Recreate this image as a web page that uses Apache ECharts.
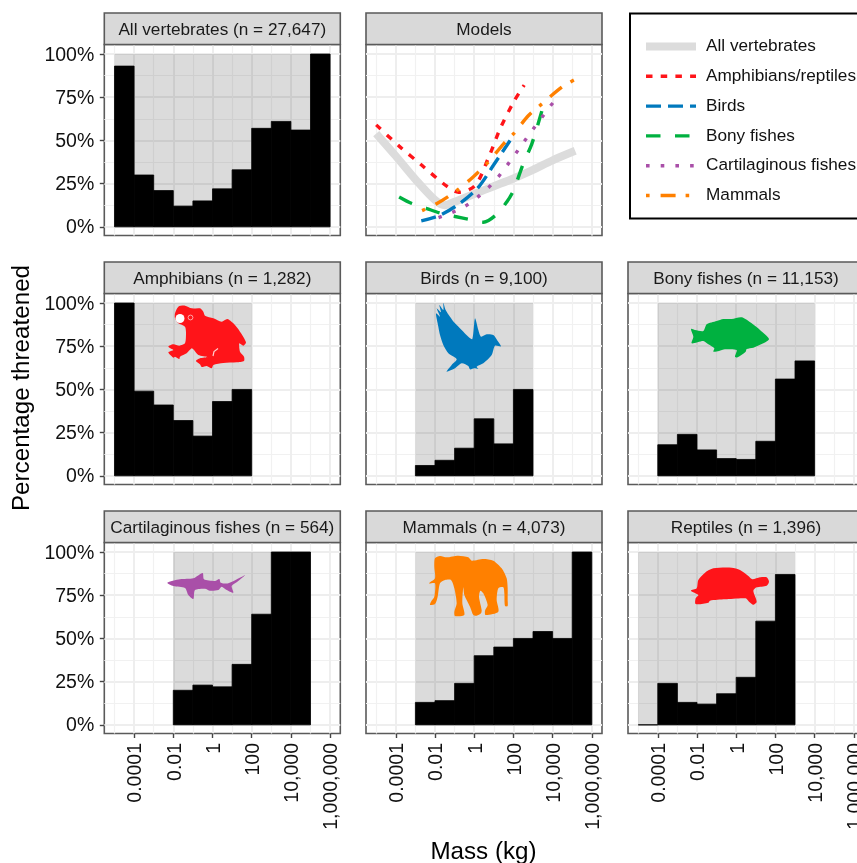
<!DOCTYPE html>
<html>
<head>
<meta charset="utf-8">
<style>
	html, body { margin: 0; padding: 0; background: #fff; overflow: hidden; }
	#chart { width: 857px; height: 863px; }
</style>
<script src="https://cdn.jsdelivr.net/npm/echarts@6/dist/echarts.min.js"></script>
</head>
<body>
<div id="chart"></div>
<script>
// percentage threatened per 1-decade mass bin, and log10 of the first bin's lower edge
const allVertebrates = [93, 30, 21, 12, 15, 22, 33, 57, 61, 56, 100];
const amphibians = [100, 49, 41, 32, 23, 43, 50];
const birds = [6, 9, 16, 33, 18.5, 50];
const bonyFishes = [18, 24, 15, 10, 9.5, 20, 56, 66.5];
const cartilaginousFishes = [20, 23, 22, 35, 64, 100, 100];
const mammals = [13, 14, 24, 40, 45, 50, 54, 50, 100];
const reptiles = [0, 24, 13, 12, 18, 27.5, 60, 87];
const binStarts = { all: -5, amphibians: -5, birds: -3, bony: -4, cartilaginous: -2, mammals: -3, reptiles: -5 };

// model curves, [log10 mass, percentage]
const modelAll = [[-5, 54], [-4, 41], [-3, 27.5], [-2, 15.5], [-1.5, 12.5], [-1, 14.5], [0, 19], [1, 23.5], [2, 28], [3, 33], [4, 38.5], [5.15, 44]];
const modelAmphRept = [[-5, 59], [-3.83, 46.7], [-2.67, 35.6], [-1.4, 23.5], [-0.8, 20], [0.05, 24], [0.73, 40], [1.32, 56.7], [2, 72], [2.55, 82]];
const modelBirds = [[-2.7, 3.5], [-1.74, 6.7], [-0.63, 14.4], [0.22, 23], [0.98, 35.6], [1.83, 50]];
const modelBony = [[-3.83, 17.3], [-3.18, 13.5], [-2.42, 10.6], [-1.74, 8], [-0.97, 6], [-0.3, 4.4], [0.47, 2.7], [1.15, 7.3], [1.66, 14.4], [2, 21], [2.5, 36.5], [2.94, 48], [3.45, 67]];
const modelCartilaginous = [[-1.82, 5.4], [-1.13, 8.3], [-0.46, 12], [0.15, 17], [0.71, 22.5], [1.22, 28.8], [1.68, 35.6], [2.12, 42.5], [2.55, 49.4], [3, 56.5], [3.43, 63], [3.89, 70], [4.38, 76.3]];
const modelMammals = [[-2.66, 9.4], [-1.9, 13.5], [-0.89, 21], [-0.04, 29], [0.68, 37], [1.5, 48], [2.05, 54.4], [2.77, 64.4], [3.47, 71.3], [4.47, 80.8], [5.1, 85]];

const xTicks = [-4, -2, 0, 2, 4, 6];
const xTickLabels = ["0.0001", "0.01", "1", "100", "10,000", "1,000,000"];
const xMinor = [-5, -3, -1, 1, 3, 5];
const yTicks = [0, 25, 50, 75, 100];
const yMinor = [12.5, 37.5, 62.5, 87.5];

const colX = [104.3, 366, 628];
const rowY = [44.5, 293.5, 542.5];
const panelW = 236;
const panelH = 191;
const stripH = 31.5;
const FONT = '"Liberation Sans", Arial, sans-serif';

const RED = "#ff1419", BLUE = "#0079bd", GREEN = "#00b140", PURPLE = "#a94fa8", ORANGE = "#ff8000";

const panels = [
	{ title: "All vertebrates (n = 27,647)", col: 0, row: 0, values: allVertebrates, start: binStarts.all },
	{ title: "Models", col: 1, row: 0 },
	{ title: "Amphibians (n = 1,282)", col: 0, row: 1, values: amphibians, start: binStarts.amphibians },
	{ title: "Birds (n = 9,100)", col: 1, row: 1, values: birds, start: binStarts.birds },
	{ title: "Bony fishes (n = 11,153)", col: 2, row: 1, values: bonyFishes, start: binStarts.bony },
	{ title: "Cartilaginous fishes (n = 564)", col: 0, row: 2, values: cartilaginousFishes, start: binStarts.cartilaginous },
	{ title: "Mammals (n = 4,073)", col: 1, row: 2, values: mammals, start: binStarts.mammals },
	{ title: "Reptiles (n = 1,396)", col: 2, row: 2, values: reptiles, start: binStarts.reptiles },
];

const modelLines = [
	{ name: "All vertebrates", data: modelAll, color: "#dcdcdc", width: 8, dash: "solid" },
	{ name: "Amphibians/reptiles", data: modelAmphRept, color: RED, width: 3.4, dash: [6.5, 8.2] },
	{ name: "Birds", data: modelBirds, color: BLUE, width: 3.4, dash: [15, 7] },
	{ name: "Bony fishes", data: modelBony, color: GREEN, width: 3.4, dash: [14.5, 14.5] },
	{ name: "Cartilaginous fishes", data: modelCartilaginous, color: PURPLE, width: 3.4, dash: [3.6, 11.1] },
	{ name: "Mammals", data: modelMammals, color: ORANGE, width: 3.4, dash: [3.6, 11, 15, 10] },
];

// silhouettes: page origin, then outline points at 3x
const silhouettes = [
	{ color: RED, ox: 90, oy: 255, points: [[265, 155], [285, 152], [305, 160], [330, 160], [340, 170], [345, 182], [370, 190], [395, 200], [412, 192], [430, 205], [450, 230], [468, 262], [460, 272], [448, 265], [450, 290], [462, 305], [462, 318], [440, 322], [400, 324], [370, 330], [365, 340], [350, 333], [335, 336], [330, 328], [318, 318], [330, 310], [352, 306], [325, 300], [312, 285], [305, 280], [290, 295], [270, 305], [268, 312], [255, 305], [250, 308], [235, 292], [250, 285], [235, 275], [250, 268], [268, 272], [285, 265], [288, 235], [285, 215], [265, 205], [255, 190], [255, 175]] },
	{ color: BLUE, ox: 355, oy: 255, points: [[265, 143], [272, 165], [285, 185], [300, 205], [320, 225], [340, 245], [352, 252], [360, 190], [370, 225], [378, 245], [395, 238], [415, 240], [428, 258], [438, 274], [420, 272], [410, 300], [385, 325], [365, 335], [370, 342], [358, 340], [345, 343], [340, 333], [320, 325], [300, 340], [275, 350], [290, 330], [305, 313], [280, 295], [265, 270], [255, 240], [250, 215], [243, 175], [255, 185], [245, 160], [258, 172], [253, 150], [265, 165]] },
	{ color: GREEN, ox: 355, oy: 255, points: [[1008, 222], [1020, 225], [1045, 228], [1055, 208], [1085, 198], [1105, 192], [1130, 192], [1160, 187], [1190, 205], [1215, 225], [1242, 252], [1225, 265], [1195, 278], [1175, 282], [1172, 290], [1148, 307], [1140, 305], [1145, 285], [1110, 283], [1092, 288], [1075, 290], [1078, 280], [1060, 268], [1045, 258], [1010, 265], [1015, 245]] },
	{ color: PURPLE, ox: 90, oy: 500, points: [[232, 248], [270, 238], [310, 235], [338, 219], [342, 238], [375, 243], [388, 237], [392, 248], [415, 250], [465, 226], [440, 247], [425, 258], [430, 278], [410, 270], [395, 260], [385, 270], [360, 272], [345, 266], [315, 270], [310, 297], [295, 285], [285, 264], [250, 258]] },
	{ color: ORANGE, ox: 355, oy: 500, points: [[240, 175], [255, 168], [275, 172], [310, 167], [340, 172], [350, 182], [385, 177], [415, 182], [440, 205], [455, 235], [458, 265], [458, 300], [458, 318], [450, 318], [448, 280], [445, 262], [430, 265], [425, 300], [430, 335], [392, 345], [390, 332], [398, 315], [385, 280], [376, 272], [372, 290], [380, 330], [378, 340], [365, 347], [355, 345], [345, 320], [328, 285], [325, 262], [322, 310], [328, 345], [300, 348], [298, 335], [305, 310], [298, 265], [288, 240], [270, 240], [255, 250], [248, 290], [240, 312], [225, 315], [228, 305], [238, 290], [240, 250], [222, 250], [240, 235], [238, 200]] },
	{ color: RED, ox: 355, oy: 500, points: [[1030, 240], [1050, 218], [1075, 205], [1130, 203], [1155, 210], [1180, 228], [1192, 238], [1215, 232], [1235, 232], [1242, 245], [1235, 257], [1205, 262], [1195, 272], [1205, 305], [1195, 314], [1182, 305], [1172, 295], [1110, 298], [1065, 302], [1060, 308], [1022, 312], [1022, 295], [1030, 285], [1008, 272], [1025, 265]] },
];

const grids = [], xAxes = [], yAxes = [], series = [], graphics = [];

// one bin = [lower edge, percentage]; the rectangle goes through the axes' scales
function renderBin(params, api) {
	const x0 = api.value(0);
	const top = api.coord([x0, api.value(1)]);
	const base = api.coord([x0 + 1, 0]);
	return {
		type: "rect",
		shape: { x: top[0], y: top[1], width: base[0] - top[0], height: base[1] - top[1] },
		style: api.style(),
	};
}

panels.forEach(function (p, i) {
	const left = colX[p.col], top = rowY[p.row];
	grids.push({
		left: left, top: top, width: panelW, height: panelH,
		show: true, backgroundColor: "#fff", borderColor: "#5a5a5a", borderWidth: 1.6,
		outerBoundsMode: "none",
	});
	const hasX = p.row === 2, hasY = p.col === 0;
	xAxes.push({
		type: "value", gridIndex: i, position: "bottom", min: -5.52, max: 6.52,
		axisLine: { show: false, onZero: false },
		axisTick: { show: hasX, customValues: xTicks, length: 4.5, lineStyle: { color: "#444", width: 1.4 } },
		axisLabel: {
			show: hasX, customValues: xTicks, rotate: 90, margin: 9.5, color: "#111", fontSize: 19.5, fontFamily: FONT,
			verticalAlign: "top", lineHeight: 4,
			formatter: function (v) { return xTickLabels[xTicks.indexOf(v)]; },
		},
		splitLine: { show: true, lineStyle: { color: "#eeeeee", width: 2 } },
	});
	xAxes.push({
		type: "value", gridIndex: i, position: "top", min: -5.52, max: 6.52,
		axisLine: { show: false, onZero: false },
		axisTick: { show: false, customValues: xMinor },
		axisLabel: { show: false, customValues: xMinor },
		splitLine: { show: true, lineStyle: { color: "#f1f1f1", width: 1.2 } },
	});
	yAxes.push({
		type: "value", gridIndex: i, position: "left", min: -5, max: 105.5,
		axisLine: { show: false, onZero: false },
		axisTick: { show: hasY, customValues: yTicks, length: 4.5, lineStyle: { color: "#444", width: 1.4 } },
		axisLabel: {
			show: hasY, customValues: yTicks, margin: 10, color: "#111", fontSize: 19.5, fontFamily: FONT,
			verticalAlign: "top", lineHeight: 2.5,
			formatter: "{value}%",
		},
		splitLine: { show: true, lineStyle: { color: "#eeeeee", width: 2 } },
	});
	yAxes.push({
		type: "value", gridIndex: i, position: "right", min: -5, max: 105.5,
		axisLine: { show: false, onZero: false },
		axisTick: { show: false, customValues: yMinor },
		axisLabel: { show: false, customValues: yMinor },
		splitLine: { show: true, lineStyle: { color: "#f1f1f1", width: 1.2 } },
	});

	if (p.values) {
		series.push({
			type: "custom", name: p.title + " all", xAxisIndex: 2 * i, yAxisIndex: 2 * i, renderItem: renderBin, clip: false,
			itemStyle: { color: "rgba(0,0,0,0.14)" }, encode: { x: 0, y: 1 },
			data: p.values.map(function (v, k) { return [p.start + k, 100]; }),
		});
		series.push({
			type: "custom", name: p.title + " threatened", xAxisIndex: 2 * i, yAxisIndex: 2 * i, renderItem: renderBin, clip: false,
			itemStyle: { color: "#000", borderColor: "#000", borderWidth: 0.8 }, encode: { x: 0, y: 1 },
			data: p.values.map(function (v, k) { return [p.start + k, v]; }),
		});
	} else {
		modelLines.forEach(function (m) {
			series.push({
				type: "line", name: m.name, xAxisIndex: 2 * i, yAxisIndex: 2 * i, data: m.data,
				showSymbol: false, symbol: "none", smooth: 0.3,
				itemStyle: { color: m.color },
				lineStyle: { color: m.color, width: m.width, type: m.dash, cap: "butt" },
			});
		});
	}

	graphics.push({
		type: "rect", shape: { x: left, y: top - stripH, width: panelW, height: stripH }, z: 5,
		style: { fill: "#d9d9d9", stroke: "#5a5a5a", lineWidth: 1.6 },
	});
	graphics.push({
		type: "text", x: left + panelW / 2, y: top - stripH / 2 + 1.3, z: 6,
		style: { text: p.title, fill: "#1a1a1a", font: "17.2px " + FONT, align: "center", verticalAlign: "middle" },
	});
});

silhouettes.forEach(function (s) {
	graphics.push({
		type: "polygon", z: 10,
		shape: { smooth: 0.25, points: s.points.map(function (q) { return [s.ox + q[0] / 3, s.oy + q[1] / 3]; }) },
		style: { fill: s.color },
	});
});
// frog eye and knee marks
graphics.push({ type: "circle", z: 11, shape: { cx: 180, cy: 318.5, r: 4.5 }, style: { fill: "#fff" } });
graphics.push({ type: "circle", z: 11, shape: { cx: 190.5, cy: 317.5, r: 2.4 }, style: { fill: RED, stroke: "#ffc8c8", lineWidth: 0.8 } });
graphics.push({
	type: "polyline", z: 11, shape: { points: [[213, 356], [214, 351.5], [218, 348.5]] },
	style: { stroke: "#ffd0d0", lineWidth: 1.2, fill: null },
});

// legend frame runs off the right edge of the page, as in the figure
graphics.push({
	type: "rect", z: 1, shape: { x: 630, y: 13.5, width: 260, height: 205 },
	style: { fill: "#fff", stroke: "#000", lineWidth: 2 },
});
graphics.push({
	type: "text", x: 22, y: 388, rotation: Math.PI / 2, z: 6,
	style: { text: "Percentage threatened", fill: "#000", font: "24.2px " + FONT, align: "center", verticalAlign: "middle" },
});
graphics.push({
	type: "text", x: 483.5, y: 852, z: 6,
	style: { text: "Mass (kg)", fill: "#000", font: "24.2px " + FONT, align: "center", verticalAlign: "middle" },
});

const chart = echarts.init(document.getElementById("chart"));
chart.setOption({
	animation: false,
	backgroundColor: "#fff",
	grid: grids,
	xAxis: xAxes,
	yAxis: yAxes,
	series: series,
	graphic: graphics,
	legend: {
		data: modelLines.map(function (m) { return m.name; }),
		orient: "vertical", left: 642, top: 38, padding: 0, z: 20,
		itemWidth: 50, itemHeight: 14, itemGap: 12.8,
		itemStyle: { opacity: 0, color: "transparent", borderWidth: 0 },
		lineStyle: { width: "inherit", opacity: 1 },
		textStyle: { fontSize: 17.2, fontFamily: FONT, color: "#111", padding: [0, 0, 0, 5] },
	},
});
</script>
</body>
</html>
